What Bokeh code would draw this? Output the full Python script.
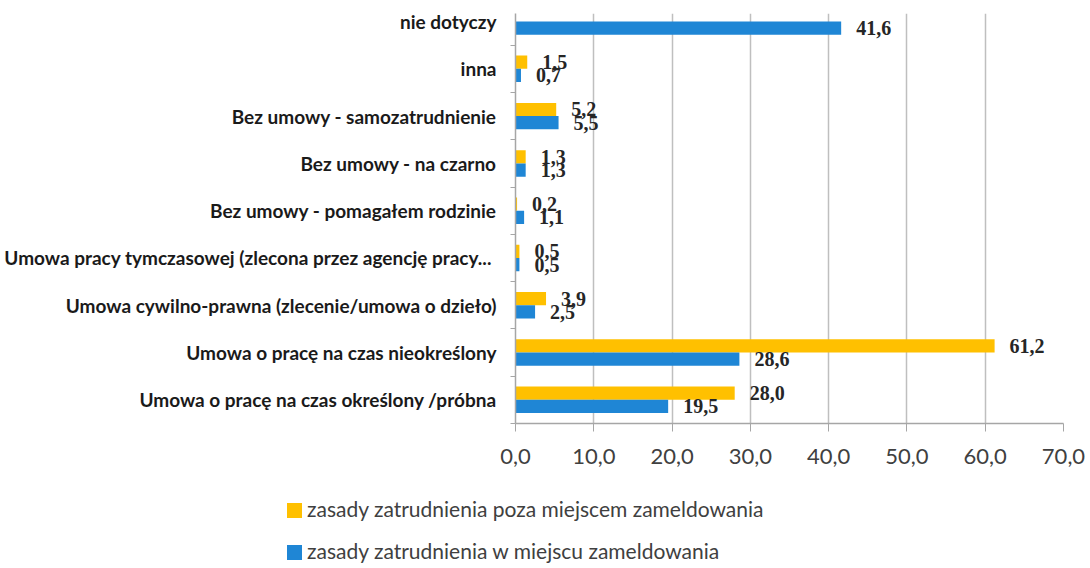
from bokeh.plotting import figure
from bokeh.models import FixedTicker, Range1d, ColumnDataSource, Div
from bokeh.layouts import column
from bokeh.embed import file_html
from bokeh.resources import INLINE
from bokeh.core.properties import value

# ---- data (top to bottom, as in the chart) ----
categories = [
    "nie dotyczy",
    "inna",
    "Bez umowy - samozatrudnienie",
    "Bez umowy - na czarno",
    "Bez umowy - pomagałem rodzinie",
    "Umowa  pracy tymczasowej (zlecona przez agencję pracy...",
    "Umowa cywilno-prawna (zlecenie/umowa o dzieło)",
    "Umowa o pracę na czas nieokreślony",
    "Umowa o pracę na czas określony /próbna",
]
poza_miejscem = [None, 1.5, 5.2, 1.3, 0.2, 0.5, 3.9, 61.2, 28.0]
w_miejscu = [41.6, 0.7, 5.5, 1.3, 1.1, 0.5, 2.5, 28.6, 19.5]
series_names = [
    "zasady zatrudnienia poza miejscem zameldowania",
    "zasady zatrudnienia w miejscu zameldowania",
]
x_ticks = [0, 10, 20, 30, 40, 50, 60, 70]
x_tick_labels = ["0,0", "10,0", "20,0", "30,0", "40,0", "50,0", "60,0", "70,0"]

ORANGE = "#FFC000"
BLUE = "#1F86D5"
series_colors = [ORANGE, BLUE]
LABEL_FONT = "Lato"
NUM_FONT = "Liberation Serif"

n = len(categories)
pos = [n - 1 - i for i in range(n)]
off = 0.14
bar_h = 0.28

def fmt(v):
    return f"{v:.1f}".replace(".", ",")

src_o = ColumnDataSource(dict(
    y=[p_ + off for p_ in pos],
    x=[float("nan") if v is None else v for v in poza_miejscem],
))
src_b = ColumnDataSource(dict(
    y=[p_ - off for p_ in pos],
    x=w_miejscu,
))
lab_o = ColumnDataSource(dict(
    y=[p_ + off for p_, v in zip(pos, poza_miejscem) if v is not None],
    x=[v for v in poza_miejscem if v is not None],
    t=[fmt(v) for v in poza_miejscem if v is not None],
))
lab_b = ColumnDataSource(dict(
    y=[p_ - off for p_ in pos],
    x=w_miejscu,
    t=[fmt(v) for v in w_miejscu],
))

p = figure(
    frame_width=548, frame_height=410,
    min_border_left=515, min_border_right=27,
    min_border_top=13, min_border_bottom=55,
    x_range=Range1d(0, 70), y_range=Range1d(-0.5, 8.17),
    output_backend="svg", toolbar_location=None,
)
p.outline_line_color = None
p.background_fill_color = "white"

p.hbar(y="y", right="x", left=0, height=bar_h, source=src_o,
       fill_color=ORANGE, line_color=None)
p.hbar(y="y", right="x", left=0, height=bar_h, source=src_b,
       fill_color=BLUE, line_color=None)

for s in (lab_o, lab_b):
    p.text(x="x", y="y", text="t", source=s, x_offset=15,
           text_align="left", text_baseline="middle",
           text_font=value(NUM_FONT), text_font_style="bold",
           text_font_size="20px", text_color="#262626")

# x axis
xt = FixedTicker(ticks=x_ticks)
p.xaxis.ticker = xt
p.xaxis.major_label_overrides = {t: l for t, l in zip(x_ticks, x_tick_labels)}
p.xaxis.major_label_text_font = LABEL_FONT
p.xaxis.major_label_text_font_size = "22px"
p.xaxis.major_label_text_color = "#404040"
p.xaxis.major_tick_out = 8
p.xaxis.major_tick_in = 0
p.xaxis.minor_tick_line_color = None
p.xaxis.axis_line_color = "#A6A6A6"
p.xaxis.major_tick_line_color = "#A6A6A6"
p.xaxis.axis_line_width = 1.5
p.xaxis.major_label_standoff = 17

# y axis
p.yaxis.ticker = FixedTicker(ticks=pos, minor_ticks=[k - 0.5 for k in range(n + 1)])
p.yaxis.major_label_overrides = {pp: c for pp, c in zip(pos, categories)}
p.yaxis.major_label_text_font = LABEL_FONT
p.yaxis.major_label_text_font_style = "bold"
p.yaxis.major_label_text_font_size = "19px"
p.yaxis.major_label_text_color = "#1a1a1a"
p.yaxis.major_tick_line_color = None
p.yaxis.major_tick_out = 0
p.yaxis.minor_tick_out = 5
p.yaxis.minor_tick_in = 0
p.yaxis.minor_tick_line_color = "#A6A6A6"
p.yaxis.axis_line_color = "#A6A6A6"
p.yaxis.axis_line_width = 1.5
p.yaxis.major_label_standoff = 14

p.xgrid.ticker = xt
p.xgrid.grid_line_color = "#BFBFBF"
p.xgrid.grid_line_width = 1.5
p.ygrid.grid_line_color = None

# ---- legend (HTML strip below the chart) ----
rows = []
for i, (name, col) in enumerate(zip(series_names, series_colors)):
    top = 14 + i * 42
    rows.append(
        f'<div style="position:absolute;left:282px;top:{top}px;height:24px;'
        f'line-height:24px;white-space:nowrap;">'
        f'<span style="display:inline-block;width:15px;height:15px;'
        f'background:{col};margin-right:5px;vertical-align:-1px;"></span>'
        f'{name}</div>'
    )
legend_html = (
    '<div style="position:relative;width:1090px;height:84px;'
    f'font-family:{LABEL_FONT};font-size:21px;color:#404040;">'
    + "".join(rows) + "</div>"
)
legend_div = Div(text=legend_html, width=1090, height=84)

layout = column(p, legend_div, spacing=0)
open("out.html", "w").write(file_html(layout, INLINE))
